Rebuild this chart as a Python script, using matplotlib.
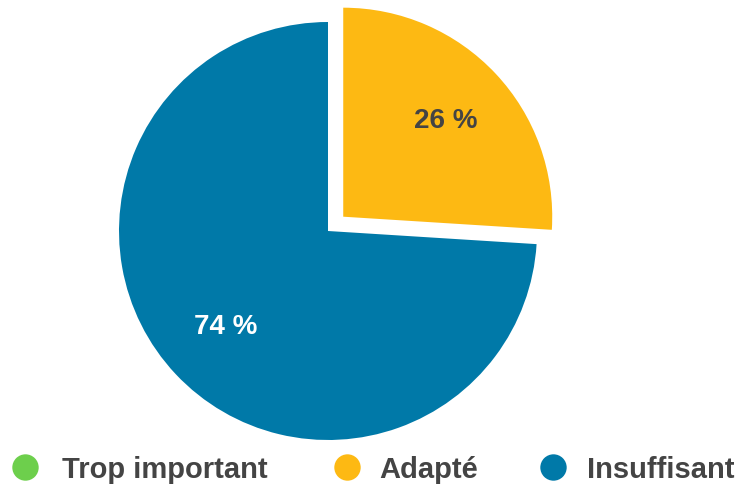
import matplotlib.pyplot as plt
from matplotlib.lines import Line2D

# answer shares
labels = ["Trop important", "Adapté", "Insuffisant"]
shares = [0, 26, 74]
colors = ["#6dcf4c", "#fdb913", "#0079a8"]
pct_colors = ["#444444", "#444444", "#ffffff"]
explode = [0, 0.1, 0]

plt.rcParams["font.family"] = ["Liberation Sans", "DejaVu Sans"]

W, H = 739, 484
fig = plt.figure(figsize=(W / 100, H / 100), dpi=100)

# pie centre and radius in pixels
cx, cy, r = 328, 231, 209
ax = fig.add_axes([(cx - r) / W, (H - cy - r) / H, 2 * r / W, 2 * r / H])

wedges, texts, autotexts = ax.pie(
    shares, colors=colors, explode=explode, startangle=90, counterclock=False,
    autopct=lambda p: f"{p:.0f} %" if p > 0 else "", pctdistance=0.67,
    wedgeprops=dict(linewidth=0), textprops=dict(fontsize=20, fontweight="bold"),
)
for w in wedges:
    w.set_clip_on(False)
for t, c in zip(autotexts, pct_colors):
    t.set_color(c)

ax.set_xlim(-1, 1)
ax.set_ylim(-1, 1)
ax.set_aspect("equal")
ax.axis("off")

# legend row along the bottom: dot, then label
dot_x = [25, 347, 553]
text_x = [62, 379, 587]
row_y = 1 - 467 / H
for lab, col, dx, tx in zip(labels, colors, dot_x, text_x):
    fig.add_artist(Line2D([dx / W], [row_y], marker="o", markersize=19,
                          markerfacecolor=col, markeredgewidth=0,
                          transform=fig.transFigure))
    fig.text(tx / W, row_y, lab, fontsize=21, fontweight="bold",
             color="#444444", ha="left", va="center_baseline")

fig.savefig("out.png", dpi=100)
